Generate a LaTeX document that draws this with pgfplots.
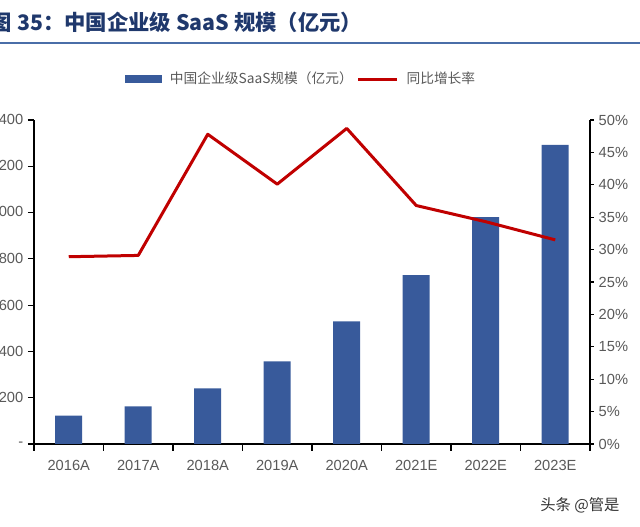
\documentclass[border=0pt]{standalone}
\usepackage{pgfplots}
\pgfplotsset{compat=1.18}
\usepackage{fontspec}
\setmainfont{Liberation Sans}
\newfontfamily\cjk{Noto Sans CJK SC}

\definecolor{barblue}{RGB}{56,90,155}
\definecolor{linered}{RGB}{192,0,0}
\definecolor{ticktext}{RGB}{89,89,89}
\definecolor{titleblue}{RGB}{31,56,108}
\definecolor{ruleblue}{RGB}{74,110,168}

% legend swatches
\pgfplotsset{
  barswatch/.style={legend image code/.code={\fill[##1] (0pt,-3pt) rectangle (27.75pt,3pt);}},
  lineswatch/.style={legend image code/.code={\draw[##1] (0pt,0pt) -- (29pt,0pt);}},
}

% market size (100 million yuan) and year-on-year growth (%)
\pgfplotstableread{
idx size growth
0 123 28.9
1 163 29.1
2 240 47.8
3 357 40.1
4 530 48.7
5 730 36.8
6 980 34.3
7 1292 31.5
}\saasdata

\begin{document}
\begin{tikzpicture}
\useasboundingbox (0,0) rectangle (480pt,395.25pt);
\clip (0,0) rectangle (480pt,395.25pt);

% heading and rule
\node[anchor=base west, inner sep=0pt, text=titleblue,
      font=\cjk\bfseries\fontsize{16}{19}\selectfont]
  at (-7pt,372pt) {图 35：中国企业级 SaaS 规模（亿元）};
\draw[ruleblue, line width=1.1pt] (0,363pt) -- (480pt,363pt);

\pgfplotsset{
  common/.style={
    at={(25.5pt,62.25pt)}, anchor=south west,
    scale only axis, width=417pt, height=243pt,
    xmin=-0.5, xmax=7.5,
    axis line style={-, line width=0.9pt, black},
    tick style={black, line width=0.9pt},
    /pgf/number format/assume math mode=true,
    ticklabel style={font=\fontsize{11}{13}\selectfont, text=ticktext},
  }
}

% bars on the left axis
\begin{axis}[common,
  ymin=0, ymax=1400,
  axis y line*=left, axis x line*=bottom,
  ytick={0,200,...,1400},
  yticklabels={-,200,400,600,800,{1,000},{1,200},{1,400}},
  xtick={0,...,7},
  xticklabels={2016A,2017A,2018A,2019A,2020A,2021E,2022E,2023E},
  major x tick style={draw=none},
  minor xtick={-0.5,0.5,...,7.5},
  minor tick length=5pt,
  major tick length=4.5pt,
  tick align=outside,
  xticklabel style={yshift=-4pt},
]
\addplot[ybar, bar width=20.25pt, fill=barblue, draw=none]
  table[x=idx, y=size] {\saasdata};
\end{axis}

% growth line on the right axis
\begin{axis}[common,
  ymin=0, ymax=50,
  axis y line*=right, axis x line=none,
  ytick={0,5,...,50},
  yticklabels={0\%,5\%,10\%,15\%,20\%,25\%,30\%,35\%,40\%,45\%,50\%},
  major tick length=3pt,
  tick align=outside,
  legend style={at={(0.481,1.1265)}, anchor=center, draw=none, fill=none,
    font=\cjk\fontsize{10.3}{12}\selectfont, text=ticktext,
    legend columns=2, inner sep=0pt,
    /tikz/every odd column/.append style={column sep=4pt},
    /tikz/every even column/.append style={column sep=1pt}},
]
\addlegendimage{fill=barblue, draw=none, barswatch}
\addlegendentry{中国企业级SaaS规模（亿元）}
\addplot[linered, line width=2.25pt, line join=round, mark=none, lineswatch]
  table[x=idx, y=growth] {\saasdata};
\addlegendentry{同比增长率}
\end{axis}

% credit line
\node[anchor=west, inner sep=0pt, text=black!80,
      font=\cjk\fontsize{11.5}{13}\selectfont]
  at (405pt,16.5pt) {头条 @管是};
\end{tikzpicture}
\end{document}
